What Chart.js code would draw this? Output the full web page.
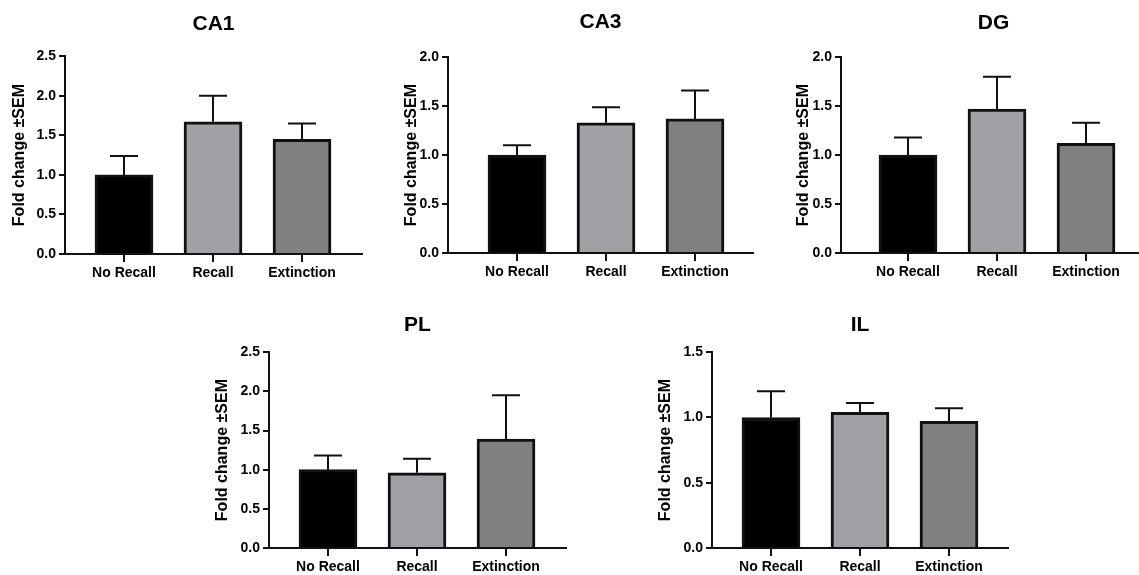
<!DOCTYPE html>
<html lang="en">
<head>
<meta charset="UTF-8">
<title>Fold change by region</title>
<script src="https://cdn.jsdelivr.net/npm/chart.js@4.4.0/dist/chart.umd.min.js"></script>
<style>
  html, body { margin: 0; padding: 0; background: #fff; overflow: hidden; width: 1139px; height: 575px; }
  .panel { position: absolute; }
</style>
</head>
<body>
<div class="panel" id="p-CA1"><canvas></canvas></div>
<div class="panel" id="p-CA3"><canvas></canvas></div>
<div class="panel" id="p-DG"><canvas></canvas></div>
<div class="panel" id="p-PL"><canvas></canvas></div>
<div class="panel" id="p-IL"><canvas></canvas></div>

<script>
  // data
  const groups = ['No Recall', 'Recall', 'Extinction'];
  const groupColors = ['#000000', '#a0a0a5', '#808080'];

  const ca1Mean = [1.00, 1.67, 1.45];
  const ca1Sem = [0.24, 0.33, 0.20];
  const ca3Mean = [1.00, 1.33, 1.37];
  const ca3Sem = [0.10, 0.16, 0.29];
  const dgMean = [1.00, 1.47, 1.12];
  const dgSem = [0.18, 0.33, 0.21];
  const plMean = [1.00, 0.96, 1.39];
  const plSem = [0.18, 0.18, 0.56];
  const ilMean = [1.00, 1.04, 0.97];
  const ilSem = [0.20, 0.07, 0.10];

  const yMax = { CA1: 2.5, CA3: 2.0, DG: 2.0, PL: 2.5, IL: 1.5 };

  // layout (pixels on the page)
  const panels = [
    { name: 'CA1', mean: ca1Mean, sem: ca1Sem, L: 0,   T: 0,   axisX: 65,  top: 55,  bottom: 254, right: 362,  first: 124, titleY: 24 },
    { name: 'CA3', mean: ca3Mean, sem: ca3Sem, L: 392, T: 0,   axisX: 448, top: 56,  bottom: 253, right: 753,  first: 517, titleY: 22 },
    { name: 'DG',  mean: dgMean,  sem: dgSem,  L: 784, T: 0,   axisX: 841, top: 56,  bottom: 253, right: 1146, first: 908, titleY: 23 },
    { name: 'PL',  mean: plMean,  sem: plSem,  L: 203, T: 290, axisX: 269, top: 351, bottom: 548, right: 566,  first: 328, titleY: 325 },
    { name: 'IL',  mean: ilMean,  sem: ilSem,  L: 646, T: 290, axisX: 712, top: 351, bottom: 548, right: 1008, first: 771, titleY: 325 }
  ];
  const step = 89;
  const xAxisH = 40;
  const font = "'Liberation Sans', Arial, sans-serif";

  Chart.defaults.font.family = font;
  Chart.defaults.color = '#000';
  Chart.defaults.plugins.legend.display = false;
  Chart.defaults.plugins.tooltip.enabled = false;
  Chart.defaults.animation = false;

  // upper error bars (mean + SEM)
  const errorBars = {
    id: 'errorBars',
    afterDatasetsDraw(chart) {
      const ctx = chart.ctx;
      const y = chart.scales.y;
      const meta = chart.getDatasetMeta(0);
      const sem = chart.config.options.plugins.errorBars.sem;
      const mean = chart.data.datasets[0].data;
      ctx.save();
      ctx.strokeStyle = '#111';
      ctx.lineWidth = 2;
      meta.data.forEach((bar, i) => {
        const y0 = y.getPixelForValue(mean[i].y);
        const y1 = y.getPixelForValue(mean[i].y + sem[i]);
        ctx.beginPath();
        ctx.moveTo(bar.x, y0);
        ctx.lineTo(bar.x, y1);
        ctx.moveTo(bar.x - 14, y1);
        ctx.lineTo(bar.x + 14, y1);
        ctx.stroke();
      });
      ctx.restore();
    }
  };

  function drawPanel(p) {
    const wrap = document.getElementById('p-' + p.name);
    const w = p.right - p.L + 3;
    const h = p.bottom - p.T + xAxisH;
    wrap.style.left = p.L + 'px';
    wrap.style.top = p.T + 'px';
    wrap.style.width = w + 'px';
    wrap.style.height = h + 'px';

    const padTop = p.titleY - p.T - 12;
    const padBottom = p.top - p.T - padTop - 24;
    const xmin = -(p.first - p.axisX) / step;
    const xmax = (p.right - p.axisX) / step + xmin;

    new Chart(wrap.querySelector('canvas'), {
      type: 'bar',
      data: {
        datasets: [{
          data: p.mean.map((v, i) => ({ x: i, y: v })),
          backgroundColor: groupColors,
          borderColor: '#111',
          borderWidth: 3,
          barThickness: 58
        }]
      },
      options: {
        responsive: true,
        maintainAspectRatio: false,
        layout: { padding: { left: 0, right: 3, top: 0, bottom: 0 } },
        plugins: {
          title: {
            display: true,
            text: p.name,
            fullSize: false,
            font: { size: 21, weight: 'bold' },
            color: '#000',
            padding: { top: padTop, bottom: padBottom }
          },
          errorBars: { sem: p.sem }
        },
        scales: {
          x: {
            type: 'linear',
            offset: false,
            min: xmin,
            max: xmax,
            afterBuildTicks: (s) => { s.ticks = groups.map((g, i) => ({ value: i })); },
            afterFit: (s) => { s.height = xAxisH; },
            ticks: {
              callback: (v) => groups[v],
              font: { size: 14, weight: 'bold' },
              color: '#000',
              padding: 3,
              maxRotation: 0,
              autoSkip: false
            },
            grid: { offset: false, drawOnChartArea: false, drawTicks: true, tickLength: 8, color: '#111', lineWidth: 2 },
            border: { display: true, color: '#111', width: 2 }
          },
          y: {
            min: 0,
            max: yMax[p.name],
            afterFit: (s) => { s.width = p.axisX - p.L; },
            ticks: {
              stepSize: 0.5,
              callback: (v) => v.toFixed(1),
              font: { size: 14, weight: 'bold' },
              color: '#000',
              padding: 3
            },
            grid: { drawOnChartArea: false, drawTicks: true, tickLength: 6, color: '#111', lineWidth: 2 },
            border: { display: true, color: '#111', width: 2 },
            title: {
              display: true,
              text: 'Fold change \u00b1SEM',
              font: { size: 16, weight: 'bold' },
              color: '#000',
              padding: { top: 10, bottom: 0 }
            }
          }
        }
      },
      plugins: [errorBars]
    });
  }

  panels.forEach(drawPanel);
</script>
</body>
</html>
